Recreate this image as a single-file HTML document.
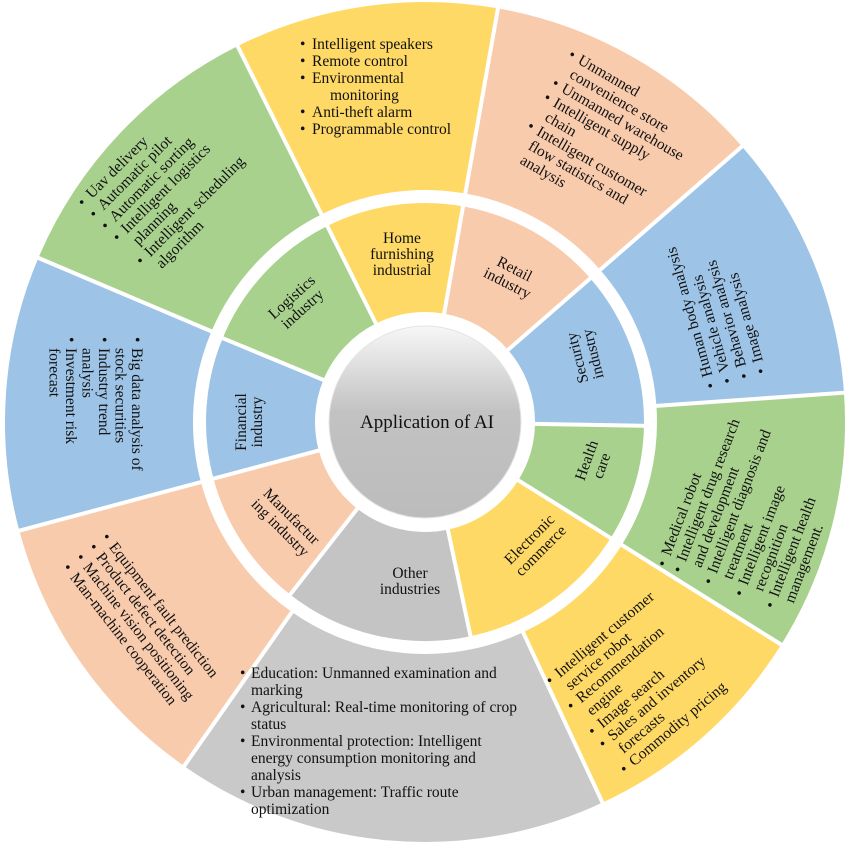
<!DOCTYPE html>
<html><head><meta charset="utf-8"><style>
html,body{margin:0;padding:0;background:#fff;}
svg{display:block;}
text{font-family:"Liberation Serif",serif;font-size:15.5px;fill:#111;}
.c{text-anchor:middle;}
</style></head><body>
<svg width="850" height="850" viewBox="0 0 850 850" xmlns="http://www.w3.org/2000/svg">
<defs>
<linearGradient id="g" x1="0" y1="0" x2="0" y2="1">
<stop offset="0" stop-color="#f7f7f7"/><stop offset="0.45" stop-color="#c2c2c2"/><stop offset="1" stop-color="#bcbcbc"/>
</linearGradient>
</defs>
<g fill="none" stroke-width="188">
<circle cx="425" cy="422" r="326" stroke="#FFD966" stroke-dasharray="207.7 3000" transform="rotate(-116.5 425 422)"/>
<circle cx="425" cy="422" r="326" stroke="#F8CBAD" stroke-dasharray="221.9 3000" transform="rotate(-80 425 422)"/>
<circle cx="425" cy="422" r="326" stroke="#9DC3E6" stroke-dasharray="210.5 3000" transform="rotate(-41 425 422)"/>
<circle cx="425" cy="422" r="326" stroke="#A9D18E" stroke-dasharray="204.8 3000" transform="rotate(-4 425 422)"/>
<circle cx="425" cy="422" r="326" stroke="#FFD966" stroke-dasharray="187.8 3000" transform="rotate(32 425 422)"/>
<circle cx="425" cy="422" r="326" stroke="#C9C9C9" stroke-dasharray="341.4 3000" transform="rotate(65 425 422)"/>
<circle cx="425" cy="422" r="326" stroke="#F8CBAD" stroke-dasharray="227.6 3000" transform="rotate(125 425 422)"/>
<circle cx="425" cy="422" r="326" stroke="#9DC3E6" stroke-dasharray="216.2 3000" transform="rotate(165 425 422)"/>
<circle cx="425" cy="422" r="326" stroke="#A9D18E" stroke-dasharray="230.4 3000" transform="rotate(203 425 422)"/>
</g>
<g fill="none" stroke-width="109">
<circle cx="425" cy="422" r="164.5" stroke="#FFD966" stroke-dasharray="104.8 3000" transform="rotate(-116.5 425 422)"/>
<circle cx="425" cy="422" r="164.5" stroke="#F8CBAD" stroke-dasharray="112 3000" transform="rotate(-80 425 422)"/>
<circle cx="425" cy="422" r="164.5" stroke="#9DC3E6" stroke-dasharray="120.6 3000" transform="rotate(-41 425 422)"/>
<circle cx="425" cy="422" r="164.5" stroke="#A9D18E" stroke-dasharray="89 3000" transform="rotate(1 425 422)"/>
<circle cx="425" cy="422" r="164.5" stroke="#FFD966" stroke-dasharray="132.1 3000" transform="rotate(32 425 422)"/>
<circle cx="425" cy="422" r="164.5" stroke="#C4C4C4" stroke-dasharray="143.6 3000" transform="rotate(78 425 422)"/>
<circle cx="425" cy="422" r="164.5" stroke="#F8CBAD" stroke-dasharray="106.2 3000" transform="rotate(128 425 422)"/>
<circle cx="425" cy="422" r="164.5" stroke="#9DC3E6" stroke-dasharray="107.7 3000" transform="rotate(165 425 422)"/>
<circle cx="425" cy="422" r="164.5" stroke="#A9D18E" stroke-dasharray="117.7 3000" transform="rotate(202.5 425 422)"/>
</g>
<g stroke="#fff" stroke-width="4">
<line x1="425" y1="192" x2="425" y2="0" transform="rotate(-26.5 425 422)"/>
<line x1="425" y1="192" x2="425" y2="0" transform="rotate(10 425 422)"/>
<line x1="425" y1="192" x2="425" y2="0" transform="rotate(49 425 422)"/>
<line x1="425" y1="192" x2="425" y2="0" transform="rotate(86 425 422)"/>
<line x1="425" y1="192" x2="425" y2="0" transform="rotate(122 425 422)"/>
<line x1="425" y1="192" x2="425" y2="0" transform="rotate(155 425 422)"/>
<line x1="425" y1="192" x2="425" y2="0" transform="rotate(215 425 422)"/>
<line x1="425" y1="192" x2="425" y2="0" transform="rotate(255 425 422)"/>
<line x1="425" y1="192" x2="425" y2="0" transform="rotate(293 425 422)"/>
<line x1="425" y1="320" x2="425" y2="200" transform="rotate(-26.5 425 422)"/>
<line x1="425" y1="320" x2="425" y2="200" transform="rotate(10 425 422)"/>
<line x1="425" y1="320" x2="425" y2="200" transform="rotate(49 425 422)"/>
<line x1="425" y1="320" x2="425" y2="200" transform="rotate(91 425 422)"/>
<line x1="425" y1="320" x2="425" y2="200" transform="rotate(122 425 422)"/>
<line x1="425" y1="320" x2="425" y2="200" transform="rotate(168 425 422)"/>
<line x1="425" y1="320" x2="425" y2="200" transform="rotate(218 425 422)"/>
<line x1="425" y1="320" x2="425" y2="200" transform="rotate(255 425 422)"/>
<line x1="425" y1="320" x2="425" y2="200" transform="rotate(292.5 425 422)"/>
</g>
<circle cx="425" cy="422" r="96" fill="url(#g)" stroke="#e4e4e4" stroke-width="1"/>
<text x="427" y="428" class="c" style="font-size:19px">Application of AI</text>

<!-- inner labels -->
<text class="c"><tspan x="402" y="243">Home</tspan><tspan x="402" y="259">furnishing</tspan><tspan x="402" y="275">industrial</tspan></text>
<text class="c" transform="translate(511,276) rotate(27)"><tspan x="0" y="-3">Retail</tspan><tspan x="0" y="13">industry</tspan></text>
<text class="c" transform="translate(585,356) rotate(-104)"><tspan x="0" y="-3">Security</tspan><tspan x="0" y="13">industry</tspan></text>
<text class="c" transform="translate(594,463) rotate(-70)"><tspan x="0" y="-3">Health</tspan><tspan x="0" y="13">care</tspan></text>
<text class="c" transform="translate(535,545) rotate(-45)"><tspan x="0" y="-3">Electronic</tspan><tspan x="0" y="13">commerce</tspan></text>
<text class="c"><tspan x="410" y="578">Other</tspan><tspan x="410" y="594">industries</tspan></text>
<text class="c" transform="translate(286,522) rotate(45)"><tspan x="0" y="-3">Manufactur</tspan><tspan x="0" y="13">ing industry</tspan></text>
<text class="c" transform="translate(249,422) rotate(-90)"><tspan x="0" y="-3">Financial</tspan><tspan x="0" y="13">industry</tspan></text>
<text class="c" transform="translate(297,303) rotate(-42)"><tspan x="0" y="-3">Logistics</tspan><tspan x="0" y="13">industry</tspan></text>

<!-- outer: home -->
<text>
<tspan x="300" y="49">•</tspan><tspan x="312" y="49">Intelligent speakers</tspan>
<tspan x="300" y="66">•</tspan><tspan x="312" y="66">Remote control</tspan>
<tspan x="300" y="83">•</tspan><tspan x="312" y="83">Environmental</tspan>
<tspan x="330" y="100">monitoring</tspan>
<tspan x="300" y="117">•</tspan><tspan x="312" y="117">Anti-theft alarm</tspan>
<tspan x="300" y="134">•</tspan><tspan x="312" y="134">Programmable control</tspan>
</text>

<!-- outer: retail -->
<text transform="translate(570,59) rotate(30)">
<tspan x="-3" y="0">•</tspan><tspan x="8" y="0">Unmanned</tspan>
<tspan x="8" y="16.5">convenience store</tspan>
<tspan x="-3" y="33">•</tspan><tspan x="8" y="33">Unmanned warehouse</tspan>
<tspan x="-3" y="49.5">•</tspan><tspan x="8" y="49.5">Intelligent supply</tspan>
<tspan x="8" y="66">chain</tspan>
<tspan x="-3" y="82.5">•</tspan><tspan x="8" y="82.5">Intelligent customer</tspan>
<tspan x="8" y="99">flow statistics and</tspan>
<tspan x="8" y="115.5">analysis</tspan>
</text>

<!-- outer: security -->
<text transform="translate(715,384) rotate(-106)">
<tspan x="-3" y="0">•</tspan><tspan x="9" y="0">Human body analysis</tspan>
<tspan x="-3" y="17.5">•</tspan><tspan x="9" y="17.5">Vehicle analysis</tspan>
<tspan x="-3" y="35">•</tspan><tspan x="9" y="35">Behavior analysis</tspan>
<tspan x="-3" y="52.5">•</tspan><tspan x="9" y="52.5">Image analysis</tspan>
</text>

<!-- outer: health -->
<text transform="translate(667,565) rotate(-69)">
<tspan x="-3" y="0">•</tspan><tspan x="9" y="0">Medical robot</tspan>
<tspan x="-3" y="16.5">•</tspan><tspan x="9" y="16.5">Intelligent drug research</tspan>
<tspan x="9" y="33">and development</tspan>
<tspan x="-3" y="49.5">•</tspan><tspan x="9" y="49.5">Intelligent diagnosis and</tspan>
<tspan x="9" y="66">treatment</tspan>
<tspan x="-3" y="82.5">•</tspan><tspan x="9" y="82.5">Intelligent image</tspan>
<tspan x="9" y="99">recognition</tspan>
<tspan x="-3" y="115.5">•</tspan><tspan x="9" y="115.5">Intelligent health</tspan>
<tspan x="9" y="132">management.</tspan>
</text>

<!-- outer: ecommerce -->
<text transform="translate(553,684) rotate(-40)">
<tspan x="-3" y="0">•</tspan><tspan x="9" y="0">Intelligent customer</tspan>
<tspan x="9" y="16.5">service robot</tspan>
<tspan x="-3" y="33">•</tspan><tspan x="9" y="33">Recommendation</tspan>
<tspan x="9" y="49.5">engine</tspan>
<tspan x="-3" y="66">•</tspan><tspan x="9" y="66">Image search</tspan>
<tspan x="-3" y="82.5">•</tspan><tspan x="9" y="82.5">Sales and inventory</tspan>
<tspan x="9" y="99">forecasts</tspan>
<tspan x="-3" y="115.5">•</tspan><tspan x="9" y="115.5">Commodity pricing</tspan>
</text>

<!-- outer: other -->
<text>
<tspan x="240" y="678">•</tspan><tspan x="251" y="678">Education: Unmanned examination and</tspan>
<tspan x="251" y="695">marking</tspan>
<tspan x="240" y="712">•</tspan><tspan x="251" y="712">Agricultural: Real-time monitoring of crop</tspan>
<tspan x="251" y="729">status</tspan>
<tspan x="240" y="746">•</tspan><tspan x="251" y="746">Environmental protection: Intelligent</tspan>
<tspan x="251" y="763">energy consumption monitoring and</tspan>
<tspan x="251" y="780">analysis</tspan>
<tspan x="240" y="797">•</tspan><tspan x="251" y="797">Urban management: Traffic route</tspan>
<tspan x="251" y="814">optimization</tspan>
</text>

<!-- outer: manufacturing -->
<text transform="translate(103,540) rotate(52)">
<tspan x="-3" y="0">•</tspan><tspan x="9" y="0">Equipment fault prediction</tspan>
<tspan x="-3" y="16.5">•</tspan><tspan x="9" y="16.5">Product defect detection</tspan>
<tspan x="-3" y="33">•</tspan><tspan x="9" y="33">Machine vision positioning</tspan>
<tspan x="-3" y="49.5">•</tspan><tspan x="9" y="49.5">Man-machine cooperation</tspan>
</text>

<!-- outer: financial -->
<text transform="translate(132,340) rotate(90)">
<tspan x="-3" y="0">•</tspan><tspan x="8" y="0">Big data analysis of</tspan>
<tspan x="8" y="16.5">stock securities</tspan>
<tspan x="-3" y="33">•</tspan><tspan x="8" y="33">Industry trend</tspan>
<tspan x="8" y="49.5">analysis</tspan>
<tspan x="-3" y="66">•</tspan><tspan x="8" y="66">Investment risk</tspan>
<tspan x="8" y="82.5">forecast</tspan>
</text>

<!-- outer: logistics -->
<text transform="translate(85.5,205.5) rotate(-45)">
<tspan x="-3" y="0">•</tspan><tspan x="9" y="0">Uav delivery</tspan>
<tspan x="-3" y="16.5">•</tspan><tspan x="9" y="16.5">Automatic pilot</tspan>
<tspan x="-3" y="33">•</tspan><tspan x="9" y="33">Automatic sorting</tspan>
<tspan x="-3" y="49.5">•</tspan><tspan x="9" y="49.5">Intelligent logistics</tspan>
<tspan x="9" y="66">planning</tspan>
<tspan x="-3" y="82.5">•</tspan><tspan x="9" y="82.5">Intelligent scheduling</tspan>
<tspan x="9" y="99">algorithm</tspan>
</text>
</svg>
</body></html>
